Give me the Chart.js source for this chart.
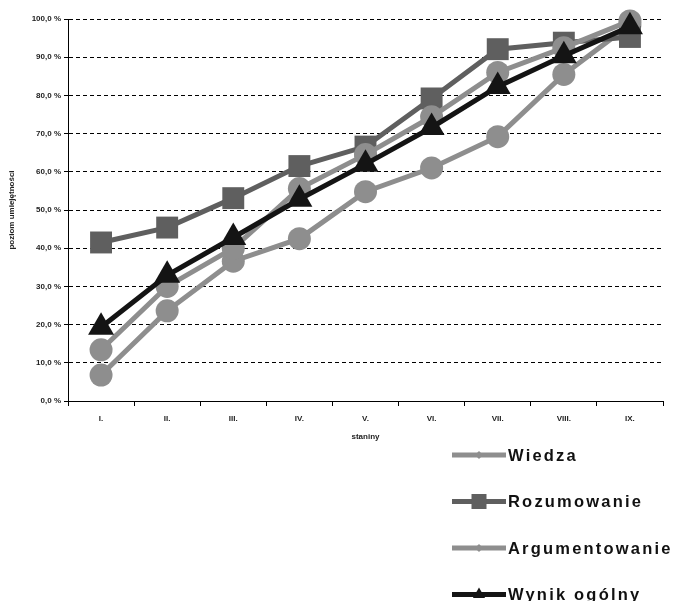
<!DOCTYPE html>
<html>
<head>
<meta charset="utf-8">
<script src="https://cdn.jsdelivr.net/npm/chart.js@4/dist/chart.umd.min.js"></script>
<style>
  html, body { margin: 0; padding: 0; background: #fff; }
  #wrap { width: 680px; height: 601px; position: relative; }
</style>
</head>
<body>
<div id="wrap"><canvas id="c" width="680" height="601"></canvas></div>
<script>
// ---- data ----
const categories = ['I.', 'II.', 'III.', 'IV.', 'V.', 'VI.', 'VII.', 'VIII.', 'IX.'];
const wiedza = [6.8, 23.6, 36.6, 42.5, 54.8, 61.0, 69.2, 85.5, 98.5];
const rozumowanie = [41.5, 45.4, 53.1, 61.5, 66.6, 79.2, 92.1, 93.8, 95.3];
const argumentowanie = [13.4, 30.0, 40.0, 55.6, 64.5, 74.4, 86.0, 92.5, 99.5];
const wynikOgolny = [19.3, 32.9, 42.8, 52.8, 62.0, 71.6, 82.3, 90.4, 98.0];
const seriesNames = ['Wiedza', 'Rozumowanie', 'Argumentowanie', 'Wynik ogólny'];
const yTicks = [0, 10, 20, 30, 40, 50, 60, 70, 80, 90, 100];
const xTitle = 'staniny';
const yTitle = 'poziom umiejętności';

const LIGHT = '#8e8e8e', MID = '#5f5f5f', DARK = '#141414';

function ds(label, data, color, style, radius, order) {
  return {
    label, data, order,
    borderColor: color, backgroundColor: color,
    borderWidth: 5,
    pointStyle: style, pointRadius: radius, pointHoverRadius: radius,
    pointBackgroundColor: color, pointBorderColor: color, pointBorderWidth: 0,
    tension: 0, clip: false
  };
}

const legendPlugin = {
  id: 'sideLegend',
  afterDraw(chart) {
    const ctx = chart.ctx;
    const x0 = 452, x1 = 506, tx = 508, y0 = 455, dy = 46.5;
    chart.data.datasets.forEach((d, i) => {
      const y = y0 + i * dy;
      ctx.save();
      ctx.strokeStyle = d.borderColor;
      ctx.lineWidth = 5;
      ctx.beginPath(); ctx.moveTo(x0, y); ctx.lineTo(x1, y); ctx.stroke();
      ctx.fillStyle = d.borderColor;
      const cx = (x0 + x1) / 2;
      ctx.beginPath();
      if (d.pointStyle === 'rect') {
        ctx.rect(cx - 7.5, y - 7.5, 15, 15);
      } else if (d.pointStyle === 'triangle') {
        const r = 7;
        ctx.moveTo(cx, y - r);
        ctx.lineTo(cx + r * 0.866, y + r / 2);
        ctx.lineTo(cx - r * 0.866, y + r / 2);
        ctx.closePath();
      } else {
        const r = 4;
        ctx.moveTo(cx, y - r); ctx.lineTo(cx + r, y); ctx.lineTo(cx, y + r); ctx.lineTo(cx - r, y);
        ctx.closePath();
      }
      ctx.fill();
      ctx.fillStyle = '#111';
      ctx.font = 'bold 16.5px "Liberation Sans", Arial, sans-serif';
      try { ctx.letterSpacing = '2.2px'; } catch (e) {}
      ctx.textBaseline = 'middle';
      ctx.textAlign = 'left';
      ctx.fillText(d.label, tx, y + 1);
      ctx.restore();
    });
  }
};

new Chart(document.getElementById('c'), {
  type: 'line',
  data: {
    labels: categories,
    datasets: [
      ds(seriesNames[0], wiedza, LIGHT, 'circle', 11.5, 3),
      ds(seriesNames[1], rozumowanie, MID, 'rect', 15.5, 2),
      ds(seriesNames[2], argumentowanie, LIGHT, 'circle', 11.5, 1),
      ds(seriesNames[3], wynikOgolny, DARK, 'triangle', 15, 0)
    ]
  },
  options: {
    responsive: false,
    animation: false,
    events: [],
    layout: { padding: { top: 19, right: 17, bottom: 150, left: 0 } },
    plugins: { legend: { display: false }, tooltip: { enabled: false } },
    scales: {
      x: {
        type: 'category',
        offset: true,
        afterFit: (s) => { s.height = 50; },
        grid: { offset: true, drawOnChartArea: false, drawTicks: true, tickLength: 5, color: '#000' },
        border: { display: true, color: '#000', width: 1 },
        ticks: { color: '#222', font: { family: '"Liberation Sans", Arial, sans-serif', size: 8, weight: 'bold' }, padding: 8, maxRotation: 0 },
        title: { display: true, text: xTitle, color: '#222', font: { family: '"Liberation Sans", Arial, sans-serif', size: 8, weight: 'bold' }, padding: { top: 0, bottom: 9 } }
      },
      y: {
        min: 0, max: 100,
        afterFit: (s) => { s.width = 68; },
        afterBuildTicks: (s) => { s.ticks = yTicks.map(v => ({ value: v })); },
        grid: { color: '#000', lineWidth: 1, drawTicks: true, tickLength: 4, tickColor: '#000' },
        border: { display: true, color: '#000', width: 1, dash: [4, 3] },
        ticks: {
          color: '#222', padding: 3,
          font: { family: '"Liberation Sans", Arial, sans-serif', size: 8, weight: 'bold' },
          callback: (v) => v.toFixed(1).replace('.', ',') + ' %'
        },
        title: { display: true, text: yTitle, color: '#222', font: { family: '"Liberation Sans", Arial, sans-serif', size: 8, weight: 'bold' }, padding: { top: 7, bottom: 0 } }
      }
    }
  },
  plugins: [legendPlugin]
});
</script>
</body>
</html>
